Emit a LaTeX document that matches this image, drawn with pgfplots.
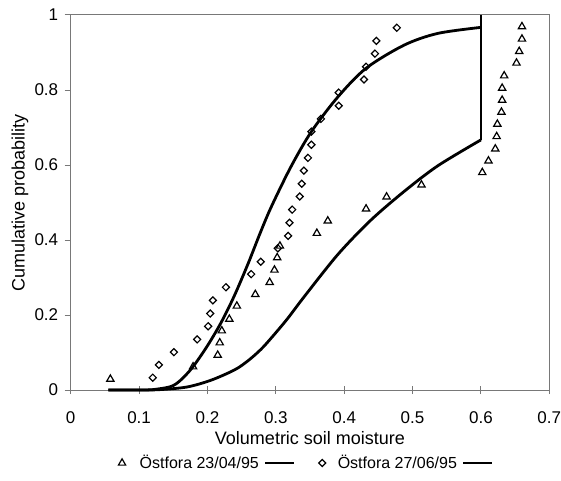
\documentclass[border=0pt]{standalone}
\usepackage{fontspec}
\setmainfont{Liberation Sans}
\usepackage{pgfplots}
\usepackage{pgfplotstable}
\pgfplotsset{compat=1.18}
\definecolor{axgray}{RGB}{120,120,120}
\pgfplotsset{
  markleg/.style={legend image code/.code={\draw[##1] plot coordinates {(0pt,0pt)};}},
  lineleg/.style={legend image code/.code={\draw[##1] (0pt,0pt) -- (29pt,0pt);}},
}

\pgfplotstableread{
x y
0.058 0.029
0.179 0.062
0.215 0.093
0.218 0.126
0.221 0.158
0.232 0.189
0.243 0.224
0.270 0.255
0.291 0.287
0.298 0.320
0.302 0.353
0.306 0.384
0.360 0.418
0.376 0.451
0.432 0.483
0.462 0.515
0.513 0.547
0.602 0.580
0.611 0.611
0.621 0.643
0.623 0.676
0.624 0.709
0.630 0.741
0.631 0.773
0.631 0.805
0.634 0.838
0.652 0.872
0.656 0.903
0.660 0.936
0.660 0.969
}\triangles

\pgfplotstableread{
x y
0.120 0.033
0.129 0.067
0.151 0.101
0.185 0.135
0.201 0.170
0.204 0.204
0.208 0.239
0.227 0.274
0.264 0.309
0.278 0.342
0.303 0.378
0.318 0.411
0.320 0.446
0.324 0.481
0.335 0.516
0.338 0.550
0.341 0.585
0.347 0.619
0.352 0.654
0.352 0.689
0.366 0.723
0.392 0.758
0.392 0.793
0.429 0.828
0.432 0.862
0.445 0.897
0.447 0.931
0.477 0.966
}\diamonds

\pgfplotstableread{
x y
0.055 0
0.100 0
0.130 0.001
0.170 0.008
0.205 0.026
0.240 0.054
0.260 0.079
0.278 0.108
0.293 0.138
0.317 0.190
0.342 0.250
0.391 0.362
0.439 0.453
0.488 0.530
0.537 0.598
0.600 0.667
}\lowercurve

\pgfplotstableread{
x y
0.055 0
0.100 0
0.120 0.001
0.146 0.009
0.160 0.025
0.178 0.060
0.200 0.118
0.220 0.180
0.239 0.250
0.259 0.335
0.277 0.418
0.293 0.487
0.322 0.595
0.352 0.689
0.391 0.782
0.432 0.858
0.488 0.920
0.537 0.951
0.600 0.967
}\uppercurve

\begin{document}
\begin{tikzpicture}
\begin{axis}[
  scale only axis, width=478.6pt, height=375pt,
  xmin=0, xmax=0.7, ymin=0, ymax=1,
  clip=false,
  xtick={0,0.1,0.2,0.3,0.4,0.5,0.6,0.7},
  xticklabels={0,0.1,0.2,0.3,0.4,0.5,0.6,0.7},
  ytick={0,0.2,0.4,0.6,0.8,1},
  yticklabels={0,0.2,0.4,0.6,0.8,1},
  xtick pos=bottom, ytick pos=left,
  tick align=outside,
  /pgf/number format/assume math mode=true,
  axis line style={axgray, line width=1pt},
  major tick length=8pt,
  xtick style={axgray, line width=1pt, yshift=4pt},
  ytick style={axgray, line width=1pt, /pgfplots/major tick length=6pt},
  ticklabel style={font=\fontsize{17}{20}\selectfont, text=black},
  xticklabel style={yshift=-10pt},
  yticklabel style={xshift=-1pt},
  xlabel={Volumetric soil moisture},
  ylabel={Cumulative probability},
  label style={font=\fontsize{18}{21}\selectfont},
  xlabel style={at={(axis description cs:0.5,-0.129)}, anchor=center},
  ylabel style={at={(axis description cs:-0.106,0.5)}, anchor=center},
  legend columns=4,
  legend style={draw=none, fill=none, inner sep=0pt,
    at={(axis description cs:0.0993,-0.1947)}, anchor=west,
    font=\fontsize{16}{19}\selectfont,
    column sep=0pt,
    /tikz/column 1/.style={column sep=12pt},
    /tikz/column 2/.style={column sep=3pt},
    /tikz/column 3/.style={column sep=0pt},
    /tikz/column 4/.style={column sep=19pt},
    /tikz/column 5/.style={column sep=10pt},
    /tikz/column 6/.style={column sep=3pt},
    /tikz/column 7/.style={column sep=0pt}},
]
\coordinate (bl) at (rel axis cs:0,0);
\coordinate (tr) at (rel axis cs:1,1);

\addplot[black, only marks, mark=triangle, mark size=4.2pt,
  mark options={line width=1.2pt, draw=black, fill=white}, markleg]
  table {\triangles};
\addlegendentry{Östfora 23/04/95}

\addplot[black, line width=2.8pt, smooth, lineleg]
  table {\lowercurve};
\addlegendentry{\mbox{}}

\addplot[black, only marks, mark=square, mark size=2.5pt,
  mark options={rotate=45, line width=1.2pt, draw=black, fill=white}, markleg]
  table {\diamonds};
\addlegendentry{Östfora 27/06/95}

\addplot[black, line width=2.8pt, smooth, lineleg]
  table {\uppercurve};
\addlegendentry{\mbox{}}

\addplot[black, line width=2.8pt, forget plot] coordinates {(0.6,0.667) (0.6,1)};
\end{axis}
\pgfresetboundingbox
\path ([shift={(-70.7pt,-90pt)}]bl) rectangle ([shift={(11.7pt,15pt)}]tr);
\end{tikzpicture}
\end{document}
